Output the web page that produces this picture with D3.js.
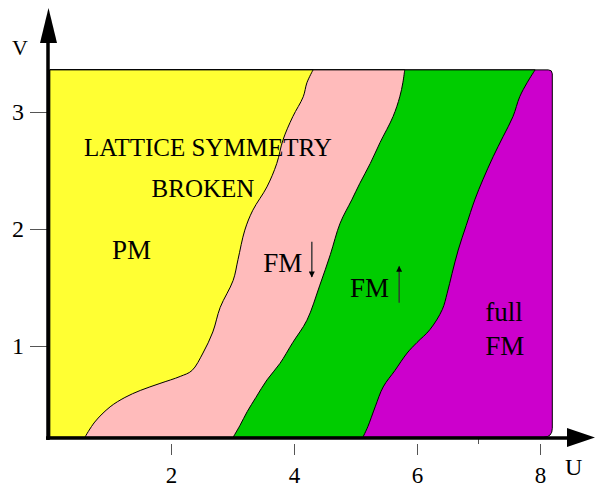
<!DOCTYPE html>
<html>
<head>
<meta charset="utf-8">
<script src="https://cdn.jsdelivr.net/npm/d3@7"></script>
<style>
  body { margin: 0; background: #fff; }
  text { font-family: "Liberation Serif", "Times New Roman", serif; fill: #000; }
</style>
</head>
<body>
<div id="chart"></div>
<script>
// chart size
let svgWidth = 595;
let svgHeight = 487;

// tick values on both axes
let uTicks = [2, 4, 6, 8];
let vTicks = [1, 2, 3];

// phase boundaries, as [U, V]
let yellowPink = [
  [0.60, 0.22], [0.76, 0.35], [1.01, 0.48], [1.25, 0.56], [1.50, 0.62],
  [1.82, 0.68], [2.15, 0.74], [2.34, 0.79], [2.52, 0.94], [2.68, 1.12],
  [2.80, 1.33], [3.01, 1.56], [3.09, 1.74], [3.20, 1.99], [3.33, 2.16],
  [3.56, 2.36], [3.72, 2.56], [3.82, 2.76], [3.98, 2.96], [4.15, 3.13],
  [4.21, 3.25], [4.31, 3.36]
];
let pinkGreen = [
  [3.01, 0.22], [3.12, 0.32], [3.24, 0.44], [3.38, 0.56], [3.56, 0.71],
  [3.77, 0.85], [3.98, 1.03], [4.21, 1.22], [4.42, 1.52], [4.59, 1.78],
  [4.75, 2.05], [4.94, 2.25], [5.07, 2.39], [5.24, 2.56], [5.40, 2.74],
  [5.61, 2.96], [5.72, 3.13], [5.77, 3.25], [5.80, 3.36]
];
let greenMagenta = [
  [5.12, 0.22], [5.20, 0.31], [5.32, 0.48], [5.45, 0.65], [5.64, 0.79],
  [5.84, 0.94], [6.00, 1.03], [6.21, 1.14], [6.41, 1.31], [6.49, 1.45],
  [6.57, 1.62], [6.67, 1.82], [6.80, 2.03], [6.94, 2.25], [7.07, 2.42],
  [7.24, 2.62], [7.40, 2.79], [7.56, 2.96], [7.67, 3.13], [7.79, 3.25],
  [7.92, 3.36]
];

// extent of the shaded phase diagram
let uRange = [0.03, 8.2];
let vRange = [0.22, 3.36];

let svg = d3.select("#chart")
  .append("svg")
  .attr("width", svgWidth)
  .attr("height", svgHeight);

let x = d3.scaleLinear().domain([0, 8]).range([48, 540]);
let y = d3.scaleLinear().domain([0, 3]).range([463, 112]);

let line = d3.line()
  .x(d => x(d[0]))
  .y(d => y(d[1]))
  .curve(d3.curveCatmullRom.alpha(0.5));

let x0 = x(uRange[0]), x1 = x(uRange[1]);
let yTop = y(vRange[1]), yBot = y(vRange[0]);

// magenta region: whole box with rounded right corners
let r1 = 4, r2 = 9;
svg.append("path")
  .attr("d", `M${x0},${yTop} L${x1 - r1},${yTop} Q${x1},${yTop} ${x1},${yTop + r1}
    L${x1},${yBot - r2} Q${x1},${yBot} ${x1 - r2},${yBot} L${x0},${yBot} Z`)
  .attr("fill", "#cc00cc")
  .attr("stroke", "#000")
  .attr("stroke-width", 1);

// each band fills from the left edge to its right boundary
function band(points, color) {
  svg.append("path")
    .attr("d", line(points) + `L${x0},${yTop} L${x0},${yBot} Z`)
    .attr("fill", color)
    .attr("stroke", "#000")
    .attr("stroke-width", 1);
}
band(greenMagenta, "#00cc00");
band(pinkGreen, "#ffbbbb");
band(yellowPink, "#ffff33");

// labels
function label(txt, u, v, size, anchor) {
  svg.append("text")
    .attr("x", x(u))
    .attr("y", y(v))
    .attr("text-anchor", anchor || "start")
    .style("font-size", size + "px")
    .text(txt);
}
label("LATTICE SYMMETRY", 2.60, 2.62, 25, "middle");
label("BROKEN", 2.52, 2.27, 25, "middle");
label("PM", 1.04, 1.74, 27);
label("FM", 3.50, 1.63, 27);
label("FM", 4.91, 1.42, 27);
label("full", 7.11, 1.21, 27);
label("FM", 7.11, 0.92, 27);

// spin arrows
svg.append("defs").append("marker")
  .attr("id", "head")
  .attr("viewBox", "0 0 10 10")
  .attr("refX", 9).attr("refY", 5)
  .attr("markerWidth", 9).attr("markerHeight", 6)
  .attr("markerUnits", "userSpaceOnUse")
  .attr("orient", "auto")
  .append("path")
  .attr("d", "M0,0 L10,5 L0,10 Z")
  .attr("fill", "#000");

function spin(u, vFrom, vTo) {
  svg.append("line")
    .attr("x1", x(u)).attr("y1", y(vFrom))
    .attr("x2", x(u)).attr("y2", y(vTo))
    .attr("stroke", "#333")
    .attr("stroke-width", 1.4)
    .attr("marker-end", "url(#head)");
}
spin(4.29, 1.89, 1.59);
spin(5.71, 1.37, 1.68);

// axes
let leftAxis = d3.axisLeft(y).tickValues(vTicks).tickFormat(d3.format("d"))
  .tickSize(17).tickPadding(6);
let gy = svg.append("g")
  .attr("transform", `translate(47,0)`)
  .call(leftAxis);
gy.attr("font-size", null).attr("font-family", null);
gy.select(".domain").remove();
gy.selectAll("line").attr("stroke", "#555");
gy.selectAll("text").style("font-size", "24px");

let bottomAxis = d3.axisBottom(x).tickValues(uTicks).tickFormat(d3.format("d"))
  .tickSize(11).tickPadding(12);
let gx = svg.append("g")
  .attr("transform", `translate(0,444)`)
  .call(bottomAxis);
gx.attr("font-size", null).attr("font-family", null);
gx.select(".domain").remove();
gx.selectAll("line").attr("stroke", "#555");
gx.selectAll("text").style("font-size", "23px");

// small minor tick at U = 7
svg.append("line")
  .attr("x1", x(7)).attr("x2", x(7))
  .attr("y1", 439).attr("y2", 444)
  .attr("stroke", "#555");

// thick axis lines with arrow heads
svg.append("line")
  .attr("x1", x(0)).attr("y1", 440)
  .attr("x2", x(0)).attr("y2", 40)
  .attr("stroke", "#000").attr("stroke-width", 3.5);
svg.append("path")
  .attr("d", `M40,43 L57,43 L48.5,8 Z`)
  .attr("fill", "#000");

svg.append("line")
  .attr("x1", 46).attr("y1", 438)
  .attr("x2", 570).attr("y2", 438)
  .attr("stroke", "#000").attr("stroke-width", 3.5);
svg.append("path")
  .attr("d", `M567,428 L595,437.5 L567,447 Z`)
  .attr("fill", "#000");

// axis names
svg.append("text").attr("x", 12).attr("y", 55).style("font-size", "22px").text("V");
svg.append("text").attr("x", 565).attr("y", 475).style("font-size", "24px").text("U");
</script>
</body>
</html>
